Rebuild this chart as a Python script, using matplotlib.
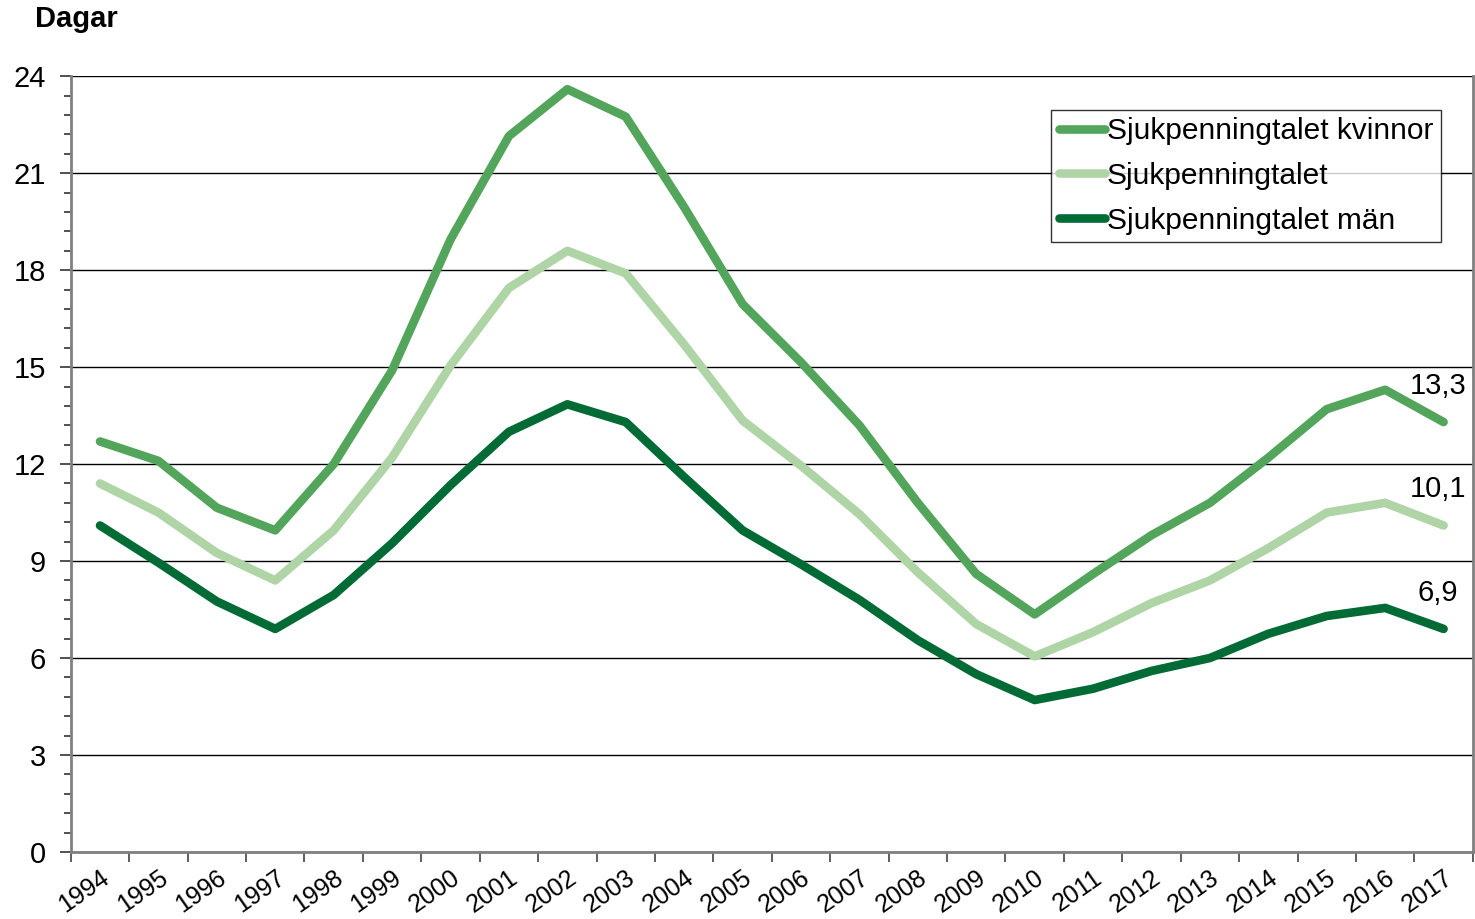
import numpy as np
import matplotlib
matplotlib.use('Agg')
import matplotlib.pyplot as plt
from matplotlib.ticker import FixedLocator, MultipleLocator

years = [str(y) for y in range(1994, 2018)]

kvinnor = [12.7, 12.1, 10.65, 9.95, 12.0, 14.9, 18.95, 22.15, 23.6, 22.75, 19.95, 16.95,
           15.15, 13.2, 10.8, 8.6, 7.35, 8.6, 9.8, 10.8, 12.2, 13.7, 14.3, 13.3]
totalt = [11.4, 10.5, 9.25, 8.4, 9.95, 12.2, 15.05, 17.45, 18.6, 17.9, 15.7, 13.35,
          11.95, 10.45, 8.65, 7.05, 6.05, 6.8, 7.7, 8.4, 9.4, 10.5, 10.8, 10.1]
man = [10.1, 8.95, 7.75, 6.9, 7.95, 9.55, 11.35, 13.0, 13.85, 13.3, 11.6, 9.95,
       8.9, 7.8, 6.55, 5.5, 4.7, 5.05, 5.6, 6.0, 6.75, 7.3, 7.55, 6.9]

labels = ['Sjukpenningtalet kvinnor', 'Sjukpenningtalet', 'Sjukpenningtalet män']
colors = ['#52a55a', '#afd4a6', '#006b35']
end_labels = ['13,3', '10,1', '6,9']

plt.rcParams['font.family'] = ['Liberation Sans', 'DejaVu Sans']

fig = plt.figure(figsize=(14.75, 9.19), dpi=100)
ax = fig.add_axes([0.048, 0.073, 0.9505, 0.844])

x = np.arange(len(years))
series = [kvinnor, totalt, man]
for vals, lab, col in zip(series, labels, colors):
    ax.plot(x, vals, color=col, lw=6.2, label=lab,
            solid_capstyle='round', solid_joinstyle='round', zorder=3)

# end value labels
for vals, txt in zip(series, end_labels):
    ax.annotate(txt, (x[-1], vals[-1]), xytext=(-4, 26), textcoords='offset points',
                ha='center', va='center', fontsize=21)

ax.set_xlim(-0.5, len(years) - 0.5)
ax.set_ylim(0, 24)
ax.set_yticks(range(0, 25, 3))
ax.yaxis.set_minor_locator(MultipleLocator(0.6))
ax.tick_params(axis='y', which='major', labelsize=21, length=8, width=1.2, color='#333333', pad=10)
ax.tick_params(axis='y', which='minor', length=5, width=1.2, color='#333333')
ax.grid(axis='y', which='major', color='black', lw=1.0, zorder=1)

# category boundaries as tick marks, year labels at centres
ax.xaxis.set_major_locator(FixedLocator(np.arange(-0.5, len(years), 1.0)))
ax.xaxis.set_minor_locator(FixedLocator(x))
ax.set_xticklabels([])
ax.set_xticklabels(years, minor=True, rotation=35, ha='right', rotation_mode='anchor', fontsize=18)
ax.tick_params(axis='x', which='major', length=7, width=1.2, color='#444444')
ax.tick_params(axis='x', which='minor', length=0, pad=10)

for s in ['left', 'bottom', 'right']:
    ax.spines[s].set_color('#808080')
    ax.spines[s].set_linewidth(2)
ax.spines['top'].set_visible(False)

ax.text(0.024, 0.995, 'Dagar', transform=fig.transFigure, fontsize=21,
        fontweight='bold', ha='left', va='top')

leg = ax.legend(loc='upper right', bbox_to_anchor=(0.977, 0.957), fontsize=21.5,
                frameon=True, fancybox=False, handlelength=1.55, handletextpad=0.05,
                borderpad=0.25, labelspacing=0.56, borderaxespad=0)
leg.get_frame().set_edgecolor('black')
leg.get_frame().set_linewidth(1.0)
for h in leg.get_lines():
    h.set_solid_capstyle('round')

fig.savefig('out.png', dpi=100)
